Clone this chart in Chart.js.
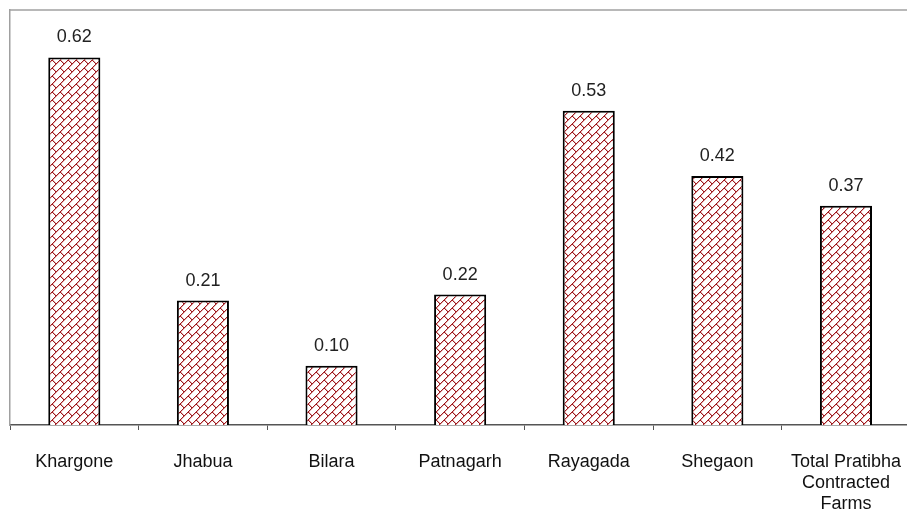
<!DOCTYPE html>
<html>
<head>
<meta charset="utf-8">
<script src="https://cdn.jsdelivr.net/npm/chart.js@4/dist/chart.umd.min.js"></script>
<style>
  html, body { margin: 0; padding: 0; background: #fff; overflow: hidden; }
  #wrap { position: relative; width: 922px; height: 513px; }
</style>
</head>
<body>
<div id="wrap"><canvas id="chart"></canvas></div>
<script>
// Sites and their values
const categories = ['Khargone', 'Jhabua', 'Bilara', 'Patnagarh', 'Rayagada', 'Shegaon', ['Total Pratibha', 'Contracted', 'Farms']];
const values = [0.62, 0.21, 0.10, 0.22, 0.53, 0.42, 0.37];
const valueLabels = ['0.62', '0.21', '0.10', '0.22', '0.53', '0.42', '0.37'];
const yMin = 0;
const yMax = 0.7;

// 8x8 diagonal-brick hatch used to fill the bars
function brickPattern(ctx) {
  const tile = document.createElement('canvas');
  tile.width = 8; tile.height = 8;
  const t = tile.getContext('2d');
  t.fillStyle = '#ffffff';
  t.fillRect(0, 0, 8, 8);
  const rows = [[7], [6], [5], [4], [3, 4], [2, 5], [1, 6], [0, 7]];
  // soft halo to the right of each stroke pixel
  t.fillStyle = '#e6b4b4';
  rows.forEach((xs, y) => xs.forEach(x => t.fillRect((x + 1) % 8, y, 1, 1)));
  t.fillStyle = '#9e1b20';
  rows.forEach((xs, y) => xs.forEach(x => t.fillRect(x, y, 1, 1)));
  return ctx.createPattern(tile, 'repeat');
}

const ctx = document.getElementById('chart').getContext('2d');

// Thin grey frame along the top of the plot area
const topFrame = {
  id: 'topFrame',
  afterDraw(chart) {
    const { ctx, chartArea } = chart;
    ctx.save();
    ctx.strokeStyle = '#a0a0a0';
    ctx.lineWidth = 1.5;
    ctx.beginPath();
    ctx.moveTo(chartArea.left, chartArea.top);
    ctx.lineTo(chartArea.right, chartArea.top);
    ctx.stroke();
    ctx.restore();
  }
};

// Value text above each bar
const valueText = {
  id: 'valueText',
  afterDatasetsDraw(chart) {
    const { ctx } = chart;
    const meta = chart.getDatasetMeta(0);
    ctx.save();
    ctx.font = '18px "Liberation Sans", Arial, sans-serif';
    ctx.fillStyle = '#222222';
    ctx.textAlign = 'center';
    ctx.textBaseline = 'alphabetic';
    meta.data.forEach((bar, i) => {
      ctx.fillText(valueLabels[i], bar.x, bar.y - 15);
    });
    ctx.restore();
  }
};

new Chart(ctx, {
  type: 'bar',
  data: {
    labels: categories,
    datasets: [{
      data: values,
      backgroundColor: brickPattern(ctx),
      borderColor: '#000000',
      borderWidth: 2,
      borderSkipped: 'start',
      categoryPercentage: 1,
      barPercentage: 0.405
    }]
  },
  options: {
    responsive: true,
    maintainAspectRatio: false,
    animation: false,
    layout: { padding: { left: 10, top: 10, right: 0, bottom: 0 } },
    plugins: {
      legend: { display: false },
      tooltip: { enabled: false }
    },
    scales: {
      x: {
        afterFit(scale) { scale.height = 88; },
        grid: {
          display: true,
          offset: true,
          drawOnChartArea: false,
          drawTicks: true,
          tickLength: 5,
          tickColor: '#555555',
          tickWidth: 1
        },
        border: { display: true, color: '#555555', width: 1.5 },
        ticks: {
          color: '#111111',
          padding: 21,
          maxRotation: 0,
          autoSkip: false,
          font: { family: '"Liberation Sans", Arial, sans-serif', size: 18, lineHeight: 1.18 }
        }
      },
      y: {
        min: yMin,
        max: yMax,
        grid: { display: false, drawTicks: false },
        border: { display: true, color: '#a0a0a0', width: 1.5 },
        ticks: { display: false }
      }
    }
  },
  plugins: [topFrame, valueText]
});
</script>
</body>
</html>
